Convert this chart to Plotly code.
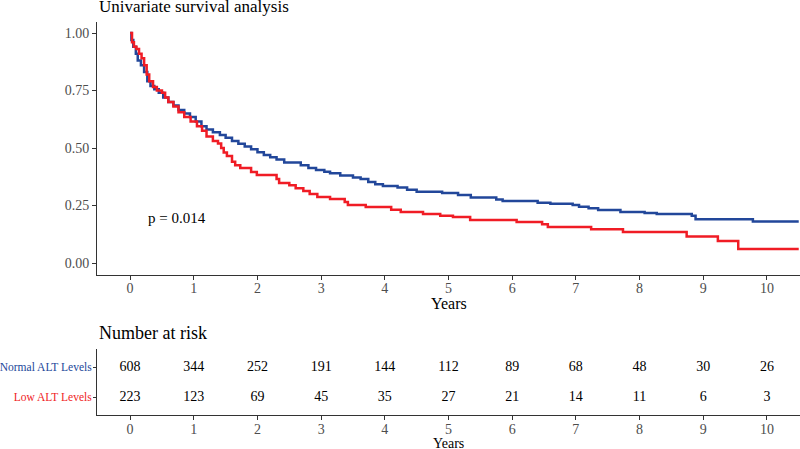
import plotly.graph_objects as go

# ---- data ----
normal_t = [0, 0.02, 0.05, 0.09, 0.12, 0.17, 0.22, 0.27, 0.32, 0.38, 0.45, 0.52, 0.60, 0.68, 0.76, 0.85,
            0.94, 1.03, 1.12, 1.20, 1.30, 1.41, 1.50, 1.60, 1.70, 1.80, 1.90, 2.00, 2.10, 2.20, 2.30,
            2.42, 2.68, 2.80, 2.92, 3.05, 3.14, 3.30, 3.50, 3.62, 3.74, 3.85, 3.97, 4.20, 4.35, 4.50,
            4.90, 5.15, 5.35, 5.75, 5.85, 6.40, 6.60, 6.95, 7.05, 7.20, 7.35, 7.70, 8.08, 8.27, 8.82,
            8.88, 9.78, 10.5]
normal_s = [1.0, 0.97, 0.94, 0.91, 0.88, 0.86, 0.83, 0.79, 0.77, 0.755, 0.74, 0.72, 0.70, 0.685, 0.665, 0.65,
            0.635, 0.615, 0.595, 0.58, 0.568, 0.556, 0.545, 0.53, 0.518, 0.506, 0.495, 0.482, 0.47, 0.46, 0.45,
            0.437, 0.425, 0.413, 0.404, 0.397, 0.39, 0.38, 0.372, 0.365, 0.352, 0.342, 0.335, 0.328, 0.318, 0.31,
            0.304, 0.296, 0.285, 0.276, 0.27, 0.262, 0.258, 0.252, 0.245, 0.238, 0.23, 0.222, 0.217, 0.213, 0.205,
            0.19, 0.18, 0.18]

low_t = [0, 0.03, 0.06, 0.10, 0.14, 0.18, 0.22, 0.26, 0.30, 0.36, 0.42, 0.50, 0.55, 0.60, 0.68, 0.76,
         0.85, 0.95, 1.05, 1.13, 1.20, 1.30, 1.38, 1.43, 1.47, 1.52, 1.60, 1.65, 1.73, 1.90, 1.99,
         2.30, 2.34, 2.50, 2.60, 2.72, 2.82, 2.94, 3.14, 3.37, 3.42, 3.70, 4.10, 4.25, 4.60, 4.87,
         5.07, 5.34, 6.07, 6.47, 6.56, 7.24, 7.74, 8.74, 9.23, 9.55, 10.5]
low_s = [1.0, 0.96, 0.94, 0.93, 0.91, 0.89, 0.86, 0.82, 0.79, 0.765, 0.75, 0.74, 0.72, 0.70, 0.68, 0.655,
         0.635, 0.615, 0.595, 0.575, 0.55, 0.53, 0.52, 0.50, 0.48, 0.465, 0.44, 0.425, 0.413, 0.396, 0.383,
         0.365, 0.348, 0.338, 0.325, 0.313, 0.30, 0.287, 0.278, 0.265, 0.252, 0.243, 0.232, 0.222, 0.213, 0.205,
         0.20, 0.187, 0.178, 0.168, 0.157, 0.147, 0.135, 0.115, 0.096, 0.061, 0.061]

risk_times = [0, 1, 2, 3, 4, 5, 6, 7, 8, 9, 10]
risk_normal = [608, 344, 252, 191, 144, 112, 89, 68, 48, 30, 26]
risk_low = [223, 123, 69, 45, 35, 27, 21, 14, 11, 6, 3]

group_names = ["Normal ALT Levels", "Low ALT Levels"]
p_text = "p = 0.014"

BLUE = "#22479a"
RED = "#f01c25"
FONT = "Liberation Serif"
AX = "#333333"
TICKC = "#4d4d4d"

fig = go.Figure()
fig.add_trace(go.Scatter(x=normal_t, y=normal_s, mode="lines", line=dict(color=BLUE, width=2.5, shape="hv"),
                         name=group_names[0], xaxis="x", yaxis="y"))
fig.add_trace(go.Scatter(x=low_t, y=low_s, mode="lines", line=dict(color=RED, width=2.5, shape="hv"),
                         name=group_names[1], xaxis="x", yaxis="y"))
fig.add_trace(go.Scatter(x=risk_times, y=[2] * len(risk_times), text=[str(v) for v in risk_normal],
                         mode="text", textfont=dict(family=FONT, size=14, color="black"),
                         xaxis="x2", yaxis="y2"))
fig.add_trace(go.Scatter(x=risk_times, y=[1] * len(risk_times), text=[str(v) for v in risk_low],
                         mode="text", textfont=dict(family=FONT, size=14, color="black"),
                         xaxis="x2", yaxis="y2"))

W, H = 800, 449
def py(p):
    return 1 - p / H

x_dom = [97 / W, 1.0]
xr = [-0.52, 10.52]
common_x = dict(range=xr, tickmode="array", tickvals=risk_times, ticks="outside", ticklen=4,
                tickcolor=AX, showline=True, linecolor=AX, linewidth=1, showgrid=False, zeroline=False,
                tickfont=dict(family=FONT, size=14, color=TICKC), fixedrange=True, automargin=False,
                ticklabelstandoff=-3)

fig.update_layout(
    width=W, height=H, margin=dict(l=0, r=0, t=0, b=0, pad=0), autosize=False,
    paper_bgcolor="white", plot_bgcolor="white", showlegend=False,
    xaxis=dict(domain=x_dom, anchor="y", **common_x),
    yaxis=dict(domain=[py(274.5), py(21.5)], range=[-0.05, 1.05], anchor="x", automargin=False,
               tickmode="array", tickvals=[0, 0.25, 0.5, 0.75, 1.0],
               ticktext=["0.00", "0.25", "0.50", "0.75", "1.00"], fixedrange=True,
               ticks="outside", ticklen=4, tickcolor=AX, showline=True, linecolor=AX, linewidth=1,
               showgrid=False, zeroline=False, tickfont=dict(family=FONT, size=14, color=TICKC)),
    xaxis2=dict(domain=x_dom, anchor="y2", **common_x),
    yaxis2=dict(domain=[py(415), py(349)], range=[0.4, 2.6], anchor="x2", automargin=False,
                tickmode="array", tickvals=[2, 1], fixedrange=True,
                ticktext=[f'<span style="color:{BLUE}">{group_names[0]}</span>',
                          f'<span style="color:{RED}">{group_names[1]}</span>'],
                ticks="outside", ticklen=3, tickcolor=AX, showline=True, linecolor=AX, linewidth=1,
                showgrid=False, zeroline=False, tickfont=dict(family=FONT, size=11.5),
                ticklabelstandoff=-1),
    annotations=[
        dict(text="Univariate survival analysis", x=97 / W, y=py(7), xref="paper", yref="paper",
             xanchor="left", yanchor="middle", showarrow=False,
             font=dict(family=FONT, size=17, color="black")),
        dict(text=p_text, x=0.73, y=0.195, xref="x", yref="y", showarrow=False,
             font=dict(family=FONT, size=15, color="black")),
        dict(text="Years", x=(97 + 800) / 2 / W, y=py(303), xref="paper", yref="paper",
             xanchor="center", yanchor="middle", showarrow=False,
             font=dict(family=FONT, size=16, color="black")),
        dict(text="Number at risk", x=97 / W, y=py(333), xref="paper", yref="paper",
             xanchor="left", yanchor="middle", showarrow=False,
             font=dict(family=FONT, size=18, color="black")),
        dict(text="Years", x=(97 + 800) / 2 / W, y=py(443), xref="paper", yref="paper",
             xanchor="center", yanchor="middle", showarrow=False,
             font=dict(family=FONT, size=14, color="black")),
    ],
)

fig.write_html("out.html", config={"displayModeBar": False},
               post_script="document.body.style.margin='0';document.body.style.overflow='hidden';")
